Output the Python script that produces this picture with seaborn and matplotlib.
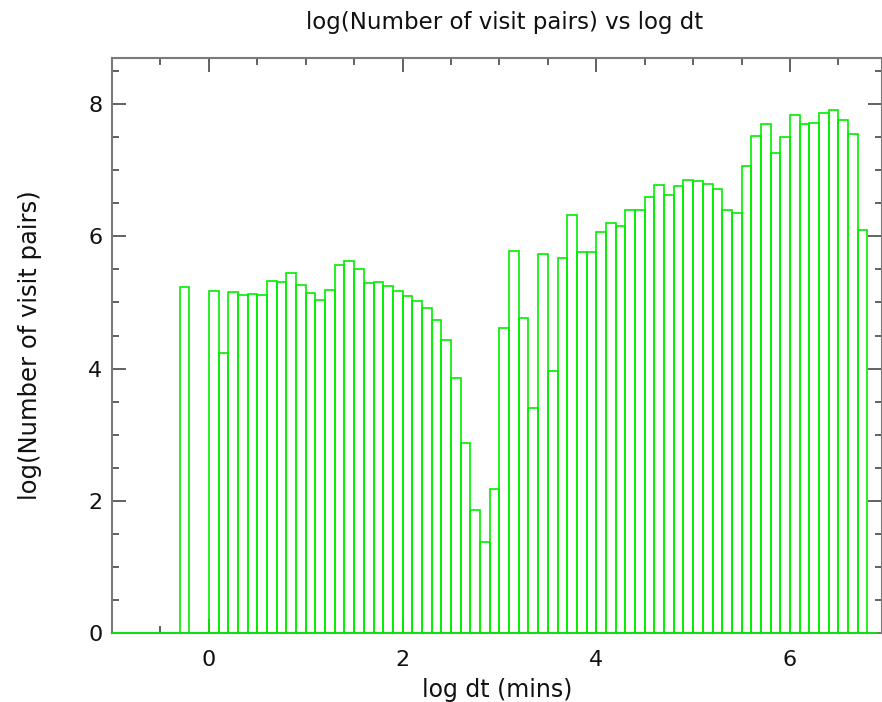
import numpy as np
import pandas as pd
import matplotlib
matplotlib.use("Agg")
import matplotlib.pyplot as plt
import seaborn as sns
from matplotlib.ticker import MultipleLocator

# Bin centres (log dt, mins) of the non-empty bins and their heights
log_dt = [-0.25,
          0.05, 0.15, 0.25, 0.35, 0.45, 0.55, 0.65, 0.75, 0.85, 0.95,
          1.05, 1.15, 1.25, 1.35, 1.45, 1.55, 1.65, 1.75, 1.85, 1.95,
          2.05, 2.15, 2.25, 2.35, 2.45, 2.55, 2.65, 2.75, 2.85, 2.95,
          3.05, 3.15, 3.25, 3.35, 3.45, 3.55, 3.65, 3.75, 3.85, 3.95,
          4.05, 4.15, 4.25, 4.35, 4.45, 4.55, 4.65, 4.75, 4.85, 4.95,
          5.05, 5.15, 5.25, 5.35, 5.45, 5.55, 5.65, 5.75, 5.85, 5.95,
          6.05, 6.15, 6.25, 6.35, 6.45, 6.55, 6.65, 6.75]
log_pairs = [5.23,
             5.17, 4.24, 5.16, 5.12, 5.13, 5.12, 5.32, 5.31, 5.44, 5.27,
             5.15, 5.04, 5.19, 5.56, 5.63, 5.51, 5.30, 5.31, 5.25, 5.18,
             5.10, 5.03, 4.91, 4.74, 4.43, 3.86, 2.88, 1.86, 1.37, 2.18,
             4.61, 5.78, 4.77, 3.40, 5.74, 3.97, 5.68, 6.33, 5.77, 5.77,
             6.06, 6.21, 6.15, 6.40, 6.40, 6.59, 6.78, 6.63, 6.76, 6.85,
             6.84, 6.80, 6.71, 6.40, 6.36, 7.07, 7.52, 7.70, 7.26, 7.51,
             7.83, 7.70, 7.72, 7.87, 7.91, 7.76, 7.55, 6.09]
bin_range = (-1.0, 6.9)
bin_width = 0.1

df = pd.DataFrame({"log_dt": log_dt, "h": log_pairs})

sns.set_style("ticks")
plt.rcParams['font.family'] = ['DejaVu Sans']

fig = plt.figure(figsize=(8.82, 7.02), dpi=100)
ax = fig.add_axes([0.127, 0.0983, 0.873, 0.8192])

sns.histplot(data=df, x="log_dt", weights="h", binrange=bin_range,
             binwidth=bin_width, element="bars", fill=False,
             color="#00ee00", linewidth=1.2, ax=ax)
for p in ax.patches:
    p.set_zorder(3)
    p.set_clip_on(False)

ax.set_xlim(-1.0, 6.95)
ax.set_ylim(0, 8.7)

spine_col = "#7a7a7a"
for s in ax.spines.values():
    s.set_visible(True)
    s.set_color(spine_col)
    s.set_linewidth(1.5)
    s.set_zorder(2)

ax.xaxis.set_major_locator(MultipleLocator(2))
ax.xaxis.set_minor_locator(MultipleLocator(0.5))
ax.yaxis.set_major_locator(MultipleLocator(2))
ax.yaxis.set_minor_locator(MultipleLocator(0.5))
ax.tick_params(which="both", direction="in", top=True, right=True,
               color="#555555", width=1.3)
ax.tick_params(which="major", length=10)
ax.tick_params(which="minor", length=5)
ax.tick_params(axis="x", which="major", labelsize=16, pad=12, labelcolor="#111111")
ax.tick_params(axis="y", which="major", labelsize=16, pad=7, labelcolor="#111111")

ax.set_xlabel("log dt (mins)", fontsize=17, labelpad=6, color="#111111")
ax.set_ylabel("log(Number of visit pairs)", fontsize=17.5, labelpad=33, color="#111111")
ax.set_title("log(Number of visit pairs) vs log dt", fontsize=16.5, pad=21,
             color="#111111", x=0.51)

fig.savefig("out.png", dpi=100)
